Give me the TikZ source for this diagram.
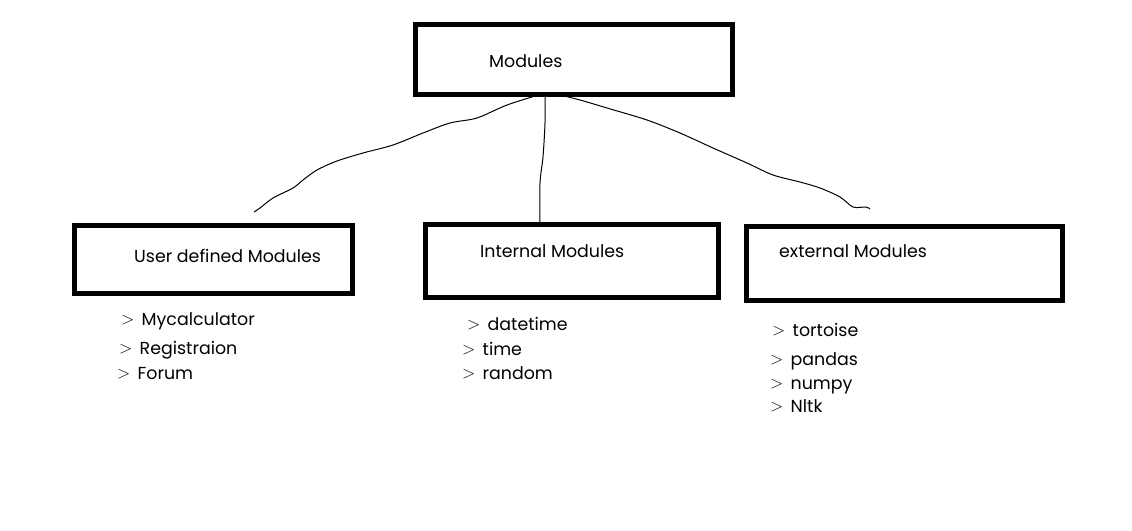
\documentclass[tikz,border=0pt]{standalone}
\usepackage{fontspec}
\setmainfont{Poppins}
\newcommand{\itm}[1]{\makebox[21.5pt][l]{\hspace{1pt}\raisebox{0.5pt}{$>$}}#1}
\begin{document}
\begin{tikzpicture}[x=1pt,y=-1pt,
  box/.style={draw=black,line width=5pt,inner sep=0pt,fill=none},
  lbl/.style={anchor=base west,inner sep=0pt,font=\fontsize{17.4}{20}\selectfont},
  conn/.style={draw=black,line width=1pt}]
\useasboundingbox (0,0) rectangle (1132,530);
\fill[white] (0,0) rectangle (1132,530);
% boxes
\draw[box] (415,24) rectangle (732,94);
\node[inner sep=0pt,minimum width=317pt,minimum height=70pt] (top) at (573.5,59) {};
\draw[box] (74.5,225.5) rectangle (352.5,293.5);
\node[inner sep=0pt,minimum width=278pt,minimum height=68pt] (user) at (213.5,259.5) {};
\draw[box] (425.5,224.5) rectangle (718.5,297.5);
\node[inner sep=0pt,minimum width=293pt,minimum height=73pt] (int) at (572,261) {};
\draw[box] (746.5,226.5) rectangle (1062.5,300.5);
\node[inner sep=0pt,minimum width=316pt,minimum height=74pt] (ext) at (904.5,263.5) {};
% titles
\node[lbl] (tt) at (489,67) {Modules};
\node[lbl] (ut) at (134,262) {User defined Modules};
\node[lbl] (it) at (480,257) {Internal Modules};
\node[lbl] (et) at (779,257) {external Modules};
% lists
\node[lbl] (u1) at (120,325) {\itm{Mycalculator}};
\node[lbl] (u2) at (118,354) {\itm{Registraion}};
\node[lbl] (u3) at (116,379) {\itm{Forum}};
\node[lbl] (i1) at (466,330) {\itm{datetime}};
\node[lbl] (i2) at (461,355) {\itm{time}};
\node[lbl] (i3) at (461,379) {\itm{random}};
\node[lbl] (e1) at (771,336) {\itm{tortoise}};
\node[lbl] (e2) at (769,365) {\itm{pandas}};
\node[lbl] (e3) at (769,389) {\itm{numpy}};
\node[lbl] (e4) at (769,412) {\itm{Nltk}};
% connectors
\coordinate (lend) at (254,212);
\coordinate (rend) at (870,209);
\draw[conn] plot[smooth,tension=0.5] coordinates {(top.south -| 541,0) (507,105) (477,118) (450,123) (423,133) (393,145) (363,153) (337,161) (317,170) (303,180) (293,188) (273,198) (260,208) (lend)};
\draw[conn] plot[smooth,tension=0.5] coordinates {(top.south -| 545,0) (545,123) (543,157) (540,183) (int.north -| 540,0)};
\draw[conn] plot[smooth,tension=0.5] coordinates {(top.south -| 557,0) (580,100) (607,108) (647,120) (680,133) (713,148) (747,163) (773,175) (800,182) (820,188) (840,197) (853,207) (866,207) (rend)};
\end{tikzpicture}
\end{document}
